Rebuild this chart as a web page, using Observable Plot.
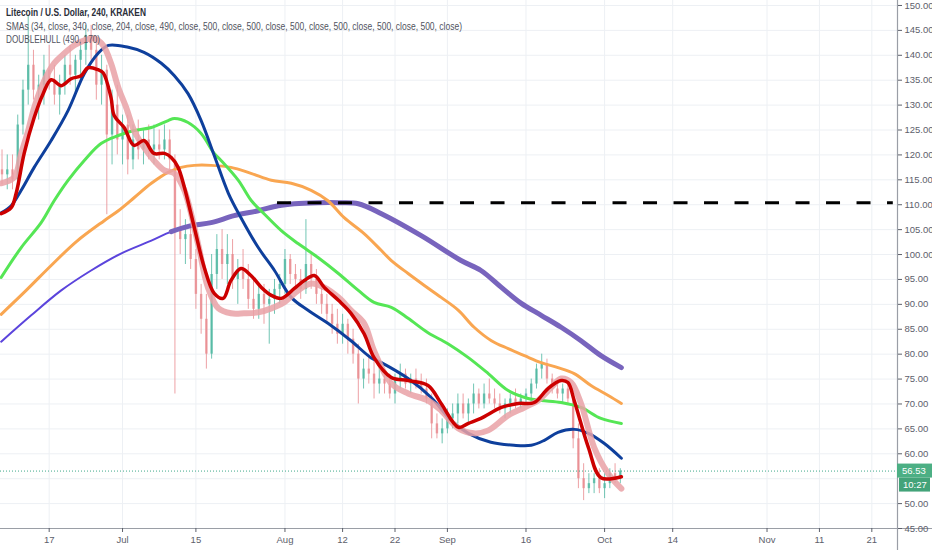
<!DOCTYPE html>
<html><head><meta charset="utf-8">
<script src="https://cdn.jsdelivr.net/npm/d3@7"></script>
<script src="https://cdn.jsdelivr.net/npm/@observablehq/plot@0.6"></script>
<style>body{margin:0;background:#fff;}</style>
</head><body><div id="chart"></div>
<script>
// ---- text ----
const titleText = "Litecoin / U.S. Dollar, 240, KRAKEN";
const smaText = "SMAs (34, close, 340, close, 204, close, 490, close, 500, close, 500, close, 500, close, 500, close, 500, close, 500, close)";
const hullText = "DOUBLEHULL (490, 170)";
const timerText = "10:27";

// ---- time axis ----
const startDate = "2019-06-08";
const tickDates = ["2019-06-17","2019-07-01","2019-07-15","2019-08-01","2019-08-12","2019-08-22","2019-09-01","2019-09-16","2019-10-01","2019-10-14","2019-11-01","2019-11-11","2019-11-21"];
const tickLabels = ["17","Jul","15","Aug","12","22","Sep","16","Oct","14","Nov","11","21"];
const priceTicks = [45,50,55,60,65,70,75,80,85,90,95,100,105,110,115,120,125,130,135,140,145,150];

// ---- daily candles (one per day from startDate) ----
const opens  = [117,116,117,115,126,133,138,133,134,137,135,132,134,138,136,139,141,144,141,134,137,124,130,123,126,119,123,121,123,121,122,121,123,119,105,103,104,99,92,87,80,96,101,98,100,95,97,95,91,89,92,90,91,93,94,99,96,95,93,98,95,92,90,88,86,84,86,83,80,75,77,76,74,75,74,72,75,76,74,75,74,73,71,66,64,65,67,68,70,68,70,72,70,72,71,70,69,70,71,70,71,72,74,77,78,75,73,72,73,71,63,55,53,54,55,53,54,56,55];
const highs  = [121,120,120,128,135,148,141,136,140,142,138,136,140,142,140,143,146,146,143,140,138,133,134,128,128,126,127,125,126,126,125,126,125,120,109,107,106,101,94,92,100,104,105,104,103,99,101,98,95,94,94,93,95,96,101,100,98,97,107,100,97,94,92,90,89,88,87,85,82,79,80,79,78,77,76,76,78,77,76,77,76,75,72,68,67,69,70,72,72,71,74,73,74,75,73,72,71,72,73,72,73,75,78,80,79,76,75,74,74,72,66,58,56,56,57,56,57,58,57];
const lows   = [114,113,113,113,124,130,131,127,130,133,130,128,132,134,132,135,138,139,131,130,108,118,120,118,116,117,119,118,119,118,119,119,117,72,100,98,97,89,84,77,79,93,95,94,93,90,93,89,87,87,86,82,88,90,92,94,93,91,92,93,90,88,86,84,82,82,80,78,70,73,74,71,72,72,71,70,73,73,72,73,72,70,63,63,62,64,65,66,67,66,68,69,69,70,69,68,67,68,69,69,70,70,73,75,74,72,71,70,70,61,53,50.6,52,52,52,51,53,54,54];
const closes = [116,117,115,126,133,138,133,134,137,135,132,134,138,136,139,141,144,141,134,137,124,130,123,126,119,123,121,123,121,122,121,123,119,105,103,104,99,92,87,80,96,101,98,100,95,97,95,91,89,92,90,91,93,94,99,96,95,93,98,95,92,90,88,86,84,86,83,80,75,77,76,74,75,74,72,75,76,74,75,74,73,71,66,64,65,67,68,70,68,70,72,70,72,71,70,69,70,71,70,71,72,74,77,78,75,73,72,73,71,63,55,53,54,55,53,54,56,55,56.53];

// ---- indicator lines: [day offset from startDate, price] ----
const blueSma = [[-0.16,108.4],[1.75,109.8],[3.66,112.9],[6.14,117.5],[9.38,122.9],[12.6,128.9],[15.7,136.3],[18.35,140.4],[20.3,142.0],[24.1,141.6],[27.1,140.6],[30.4,138.4],[32.9,135.9],[35.5,132.3],[38.0,126.9],[40.5,119.9],[43.2,112.3],[45.6,107.4],[48.9,101.4],[52.0,96.8],[55.2,91.4],[58.4,88.8],[62.2,86.2],[66.6,82.7],[70.4,79.3],[72.4,78.3],[77.5,75.1],[81.9,71.3],[85.7,66.7],[89.0,64.1],[93.3,62.3],[97.7,61.7],[101.0,61.7],[103.5,62.7],[106.1,64.3],[109.2,64.9],[111.9,64.1],[114.9,62.1],[118.2,59.1]];
const greenSma = [[-0.16,95.4],[3.66,101.4],[7.47,106.4],[9.95,110.8],[12.6,114.9],[15.7,118.9],[18.9,122.3],[22.2,123.9],[25.2,124.9],[28.5,125.5],[31.7,126.9],[32.9,127.3],[35.5,126.5],[38.0,124.3],[40.5,120.3],[41.8,118.9],[45.1,114.9],[47.6,110.8],[50.0,108.2],[53.3,104.8],[56.5,102.2],[60.3,99.4],[64.2,96.2],[68.0,92.8],[71.0,90.4],[74.3,89.4],[77.5,87.2],[81.3,84.3],[85.1,82.1],[89.0,79.3],[92.8,76.1],[96.6,72.7],[100.4,71.1],[102.9,70.7],[106.7,70.3],[110.5,69.3],[114.3,67.1],[118.2,66.1]];
const orangeSma = [[-0.16,88.0],[4.61,92.8],[9.38,97.8],[14.2,102.6],[19.5,106.8],[22.2,108.8],[25.2,111.4],[28.5,114.3],[31.7,116.5],[34.2,117.5],[36.7,117.9],[39.9,117.9],[43.7,117.5],[47.5,116.3],[51.4,114.9],[55.2,114.3],[59.0,112.9],[62.2,110.8],[65.3,107.4],[69.1,104.2],[72.4,100.8],[74.3,98.8],[77.5,96.2],[80.6,93.8],[83.8,91.4],[87.1,88.8],[90.1,85.4],[93.4,82.7],[96.6,81.1],[99.7,79.7],[102.9,78.3],[106.1,77.3],[109.2,76.1],[112.4,73.7],[115.7,71.7],[118.2,70.1]];
const purpleSma = [[-0.16,82.5],[5.57,87.8],[11.3,92.8],[17.0,96.8],[22.7,100.2],[28.5,102.8],[32.3,104.6],[36.1,105.8],[39.9,106.4],[44.3,107.8],[48.9,108.8],[52.7,109.8],[55.8,110.2],[60.3,110.4],[64.2,110.4],[68.0,110.2],[72.4,108.2],[80.0,103.8],[87.6,98.8],[91.4,96.8],[95.3,93.4],[99.1,90.2],[102.9,87.8],[106.7,85.4],[110.5,82.7],[114.3,79.7],[118.2,77.3]];
const sma500Start = 32.3;
const hullFast = [[-0.16,108.2],[1.75,109.4],[2.7,112.3],[4.23,120.3],[6.14,127.5],[7.85,132.3],[9.38,135.1],[11.3,133.9],[13.2,135.3],[15.1,135.9],[16.4,137.5],[18.35,137.1],[19.3,136.5],[20.8,131.5],[21.4,127.9],[23.3,125.5],[25.2,121.9],[27.1,122.9],[29.0,120.3],[31.0,120.3],[32.3,119.5],[33.6,117.5],[34.8,113.5],[36.7,105.4],[38.6,97.4],[40.5,92.2],[42.2,91.2],[43.7,94.8],[45.6,97.2],[47.5,95.8],[49.5,93.4],[51.4,91.8],[53.3,91.2],[55.8,93.2],[57.7,94.8],[59.6,95.8],[61.5,93.4],[64.2,90.8],[66.6,88.2],[69.1,84.1],[71.0,79.3],[74.3,75.3],[77.5,74.7],[81.3,73.7],[83.8,70.1],[87.1,65.3],[89.0,66.1],[91.4,67.1],[95.3,69.3],[98.5,70.1],[101.6,70.3],[104.2,73.1],[106.7,74.7],[108.0,74.3],[109.2,70.7],[111.9,61.3],[114.3,55.2],[118.2,55.4]];
const hullSlow = [[-0.16,114.3],[2.32,115.5],[3.66,120.3],[5.0,124.9],[6.14,129.5],[8.05,134.9],[9.95,138.4],[11.9,140.4],[13.8,142.0],[15.7,143.0],[17.6,143.4],[19.3,142.0],[20.8,138.4],[22.2,133.5],[23.7,129.5],[25.2,124.9],[27.1,121.5],[29.0,118.9],[31.0,116.9],[32.9,116.3],[34.8,112.9],[37.4,102.2],[39.3,93.4],[41.3,89.2],[43.7,88.2],[46.2,88.2],[48.9,88.4],[51.4,89.2],[53.8,90.4],[56.5,92.8],[59.0,94.2],[61.5,93.4],[64.2,91.4],[66.6,88.8],[69.1,86.2],[71.0,80.7],[74.3,74.1],[77.5,72.1],[81.3,70.7],[83.8,68.7],[87.1,65.1],[90.1,64.1],[92.8,64.7],[96.6,67.7],[99.7,69.3],[102.3,70.7],[104.8,73.3],[106.7,75.1],[108.6,74.3],[110.5,70.1],[113.0,61.3],[115.7,56.0],[118.2,53.0]];

// ---- horizontal level ----
const levelPrice = 110.4;
const levelStartDay = 52.58;
const levelEndDay = 170.1;

// ---- build ----
const base = Date.parse(startDate + "T00:00:00Z");
const day = d => new Date(base + d * 864e5);
const lastClose = closes[closes.length - 1];
const candles = opens.map((o, i) => ({date: day(i), open: o, high: highs[i], low: lows[i], close: closes[i]}));
const toRows = arr => arr.map(([d, v]) => ({date: day(d), v}));
const ticks = tickDates.map(s => new Date(s + "T00:00:00Z"));
const labelMap = new Map(ticks.map((t, i) => [+t, tickLabels[i]]));
const xStart = day(-0.29), xEnd = day(170.9);
const up = "#4db6a0", down = "#e88a8f";
const col = d => d.close >= d.open ? up : down;
const lineOpts = {x: "date", y: "v", curve: "catmull-rom", strokeLinejoin: "round", strokeLinecap: "round"};
const labeledTicks = priceTicks.filter(t => Math.abs(t - lastClose) > 2.5);

const chart = Plot.plot({
  width: 932, height: 550,
  marginLeft: 0, marginRight: 35, marginTop: 0, marginBottom: 22,
  style: {fontFamily: "Liberation Sans, Arial, sans-serif", background: "#fff", overflow: "visible"},
  x: {type: "utc", domain: [xStart, xEnd], axis: null},
  y: {domain: [45, 151], axis: null},
  marks: [
    Plot.ruleY(priceTicks, {stroke: "#edf0f4"}),
    Plot.ruleX(ticks, {stroke: "#edf0f4"}),
    Plot.ruleX(candles, {x: "date", y1: "low", y2: "high", stroke: col, strokeWidth: 1, strokeOpacity: 0.8}),
    Plot.ruleX(candles, {x: "date", y1: "open", y2: "close", stroke: col, strokeWidth: 2.4, strokeOpacity: 0.8}),
    Plot.ruleY([lastClose], {stroke: "#3fa88a", strokeWidth: 1, strokeDasharray: "1,2"}),
    Plot.line(toRows(purpleSma), {...lineOpts, stroke: "#5b44dc", strokeWidth: 2}),
    Plot.line(toRows(purpleSma.filter(([d]) => d >= sma500Start)), {...lineOpts, stroke: "#7864bd", strokeWidth: 5}),
    Plot.line(toRows(orangeSma), {...lineOpts, stroke: "#f9a651", strokeWidth: 3}),
    Plot.line(toRows(greenSma), {...lineOpts, stroke: "#55e655", strokeWidth: 3}),
    Plot.line(toRows(blueSma), {...lineOpts, stroke: "#0e3f9c", strokeWidth: 3}),
    Plot.line(toRows(hullSlow), {...lineOpts, stroke: "#e9a1a6", strokeWidth: 6, strokeOpacity: 0.85}),
    Plot.line(toRows(hullFast), {...lineOpts, stroke: "#cc0000", strokeWidth: 3.5}),
    Plot.ruleY([levelPrice], {x1: day(levelStartDay), x2: day(levelEndDay), stroke: "#000", strokeWidth: 3, strokeDasharray: "14,16.5"}),
    Plot.ruleY([45], {stroke: "#9a9ea6", strokeWidth: 1.2, insetRight: -35}),
    Plot.ruleX([xEnd], {stroke: "#9a9ea6", strokeWidth: 1.2, insetBottom: -22}),
    Plot.axisY(labeledTicks, {anchor: "right", tickFormat: d => d.toFixed(2), tickSize: 4, tickPadding: 3, fontSize: 9.5, color: "#5d606b", label: null}),
    Plot.axisX(ticks, {anchor: "bottom", tickFormat: d => labelMap.get(+d), tickSize: 4, tickPadding: 4, fontSize: 9.5, color: "#5d606b", label: null})
  ]
});

const svg = d3.select(chart);
// legend text
const lg = svg.append("g").attr("font-family", "Liberation Sans, Arial, sans-serif").attr("font-size", 10.5).attr("text-anchor", "start");
lg.append("text").attr("x", 6).attr("y", 16).attr("font-weight", "bold").attr("fill", "#2a2e39").attr("textLength", 140).attr("lengthAdjust", "spacingAndGlyphs").text(titleText);
lg.append("text").attr("x", 6).attr("y", 29.5).attr("fill", "#50535e").attr("textLength", 456).attr("lengthAdjust", "spacingAndGlyphs").text(smaText);
lg.append("text").attr("x", 6).attr("y", 42.5).attr("fill", "#50535e").attr("textLength", 94).attr("lengthAdjust", "spacingAndGlyphs").text(hullText);

// last price tags on the price axis
const ys = chart.scale("y").apply(lastClose);
const xs = chart.scale("x").apply(xEnd);
const tg = svg.append("g").attr("font-family", "Liberation Sans, Arial, sans-serif").attr("font-size", 9.5).attr("fill", "#fff").attr("text-anchor", "start");
tg.append("rect").attr("x", xs).attr("y", ys - 7).attr("width", 35).attr("height", 14).attr("fill", "#4caf84");
tg.append("text").attr("x", xs + 5).attr("y", ys + 3.5).text(lastClose.toFixed(2));
tg.append("rect").attr("x", xs + 2).attr("y", ys + 7).attr("width", 31).attr("height", 14).attr("fill", "#43a379");
tg.append("text").attr("x", xs + 6).attr("y", ys + 17.5).text(timerText);

document.getElementById("chart").appendChild(chart);
</script></body></html>
